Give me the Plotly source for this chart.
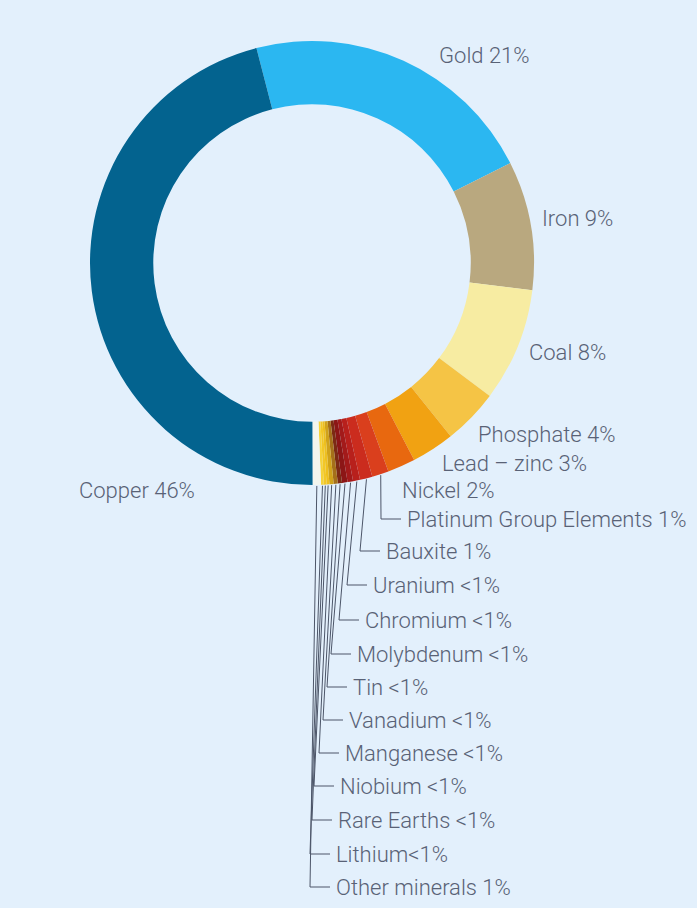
import math
import plotly.graph_objects as go

# Share of mining value by commodity (percent), clockwise from the top
minerals = ["Gold", "Iron", "Coal", "Phosphate", "Lead – zinc", "Nickel",
            "Platinum Group Elements", "Bauxite", "Uranium", "Chromium",
            "Molybdenum", "Tin", "Vanadium", "Manganese", "Niobium",
            "Rare Earths", "Lithium", "Other minerals", "Copper"]
shares = [21.4, 9.3, 8.2, 4.0, 3.1, 2.0,
          1.2, 0.9, 0.5, 0.4,
          0.4, 0.3, 0.3, 0.3, 0.2,
          0.2, 0.2, 0.6, 45.6]
share_labels = ["21%", "9%", "8%", "4%", "3%", "2%",
                "1%", "1%", "<1%", "<1%",
                "<1%", "<1%", "<1%", "<1%", "<1%",
                "<1%", "<1%", "1%", "46%"]

colors = ["#2bb7f1", "#b9a87f", "#f7eca2", "#f5c445", "#f1a212", "#e8680f",
          "#da3f1d", "#cb2c1e", "#b8201c", "#a31a1a",
          "#8c1616", "#7c2a14", "#a5701a", "#d0a21a", "#eebf1e",
          "#f3c726", "#f6d23a", "#f2f5ee", "#03638f"]

BG = "#e3f0fc"
TEXT = "#596276"
LINE = "#4c5568"

W, H = 697, 908
CX, CY, R = 312, 263, 222
ROTATION = -14.5

# label placement (left edge of text, vertical centre), in page pixels
label_pos = {
    "Gold": (437, 55), "Iron": (540, 218), "Coal": (527, 352),
    "Phosphate": (476, 434), "Lead – zinc": (440, 463), "Nickel": (400, 490),
    "Platinum Group Elements": (405, 519), "Bauxite": (384, 551),
    "Uranium": (371, 585), "Chromium": (363, 620), "Molybdenum": (355, 654),
    "Tin": (351, 687), "Vanadium": (347, 720), "Manganese": (343, 753),
    "Niobium": (338, 786), "Rare Earths": (336, 820), "Lithium": (334, 854),
    "Other minerals": (334, 887), "Copper": (77, 490),
}
with_leader = ["Platinum Group Elements", "Bauxite", "Uranium", "Chromium",
               "Molybdenum", "Tin", "Vanadium", "Manganese", "Niobium",
               "Rare Earths", "Lithium", "Other minerals"]

fig = go.Figure()

fig.add_trace(go.Pie(
    labels=minerals, values=shares, hole=0.715, sort=False,
    direction="clockwise", rotation=ROTATION,
    marker=dict(colors=colors, line=dict(width=0)),
    textinfo="none", hoverinfo="label+percent", showlegend=False,
    domain=dict(x=[(CX - R) / W, (CX + R) / W],
                y=[1 - (CY + R) / H, 1 - (CY - R) / H]),
))

# mid-angle of each slice (degrees clockwise from 12 o'clock)
total = sum(shares)
mid_angle = {}
acc = ROTATION
for name, v in zip(minerals, shares):
    span = v / total * 360
    mid_angle[name] = acc + span / 2
    acc += span

font = dict(family="Roboto, Inter, sans-serif", size=22, color=TEXT, weight=300)

for name, lab in zip(minerals, share_labels):
    x, y = label_pos[name]
    sep = "" if name == "Lithium" else " "
    fig.add_annotation(x=x, y=y, xref="x", yref="y", text=f"{name}{sep}{lab}",
                       showarrow=False, xanchor="left", yanchor="middle",
                       font=font)
    if name in with_leader:
        a = math.radians(mid_angle[name])
        sx = CX + (R + 1) * math.sin(a)
        sy = CY - (R + 1) * math.cos(a)
        fig.add_trace(go.Scatter(
            x=[sx, x - 24, x - 4], y=[sy, y, y], mode="lines",
            line=dict(color=LINE, width=1), hoverinfo="skip", showlegend=False,
        ))

fig.update_layout(
    width=W, height=H, margin=dict(l=0, r=0, t=0, b=0),
    paper_bgcolor=BG, plot_bgcolor="rgba(0,0,0,0)",
    xaxis=dict(range=[0, W], visible=False, fixedrange=True),
    yaxis=dict(range=[H, 0], visible=False, fixedrange=True),
)

fig.write_html("out.html")
